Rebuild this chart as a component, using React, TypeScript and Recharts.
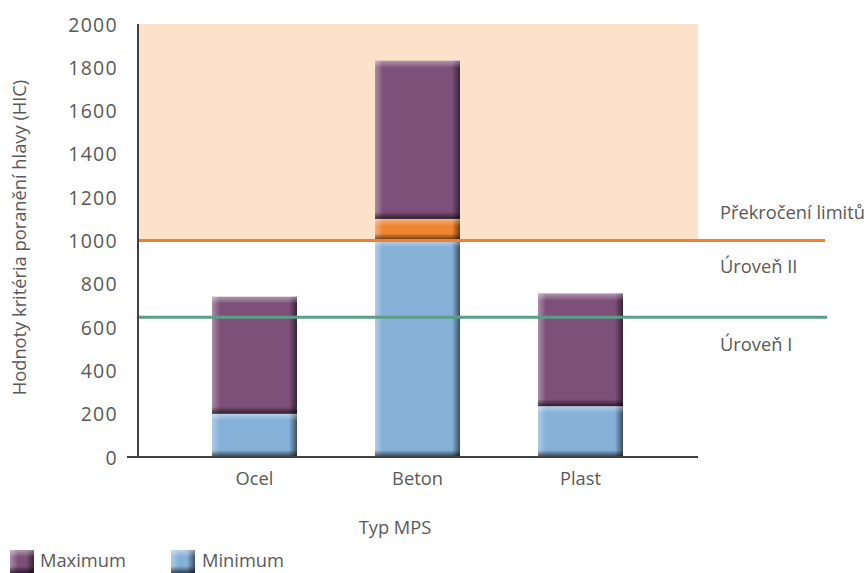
import React from 'react';
import { BarChart, Bar, XAxis, YAxis, ReferenceArea, ReferenceLine, Legend } from 'recharts';

const categories = ['Ocel', 'Beton', 'Plast'];
const minimumValues = [200, 1000, 235];
const limitExceededValues = [0, 100, 0];
const maximumValues = [740, 1830, 755];
const yTicks = [0, 200, 400, 600, 800, 1000, 1200, 1400, 1600, 1800, 2000];
const levelTwo = 1000;
const levelOne = 645;
const bandTop = 2000;

const data = categories.map((name, i) => ({
  name,
  min: minimumValues[i],
  over: limitExceededValues[i],
  maxPart: maximumValues[i] - minimumValues[i] - limitExceededValues[i],
}));

const FONT = '"Open Sans", "Noto Sans", sans-serif';
const TEXT = '#595959';
const FS = 18.3;

const palettes: Record<string, { main: string }> = {
  purple: { main: '#7D5079' },
  blue: { main: '#85B0D8' },
  orange: { main: '#F0842F' },
};

const Defs = () => (
  <defs>
    <linearGradient id="bgL" x1="0" y1="0" x2="1" y2="0">
      <stop offset="0" stopColor="#fff" stopOpacity={0.35} />
      <stop offset="1" stopColor="#fff" stopOpacity={0} />
    </linearGradient>
    <linearGradient id="bgR" x1="0" y1="0" x2="1" y2="0">
      <stop offset="0" stopColor="#000" stopOpacity={0} />
      <stop offset="1" stopColor="#000" stopOpacity={0.55} />
    </linearGradient>
    <linearGradient id="bgT" x1="0" y1="0" x2="0" y2="1">
      <stop offset="0" stopColor="#fff" stopOpacity={0.4} />
      <stop offset="1" stopColor="#fff" stopOpacity={0} />
    </linearGradient>
    <linearGradient id="bgB" x1="0" y1="0" x2="0" y2="1">
      <stop offset="0" stopColor="#000" stopOpacity={0} />
      <stop offset="1" stopColor="#000" stopOpacity={0.65} />
    </linearGradient>
  </defs>
);

const makeShape = (pal: string) => (p: any) => {
  const { x, y, width, height } = p;
  if (!height || height <= 0.5) return <g />;
  const e = Math.min(8, width / 2);
  const t = Math.min(7, height / 2);
  return (
    <g>
      <Defs />
      <rect x={x} y={y} width={width} height={height} fill={palettes[pal].main} />
      <rect x={x} y={y} width={e} height={height} fill="url(#bgL)" />
      <rect x={x + width - e} y={y} width={e} height={height} fill="url(#bgR)" />
      <rect x={x} y={y} width={width} height={t} fill="url(#bgT)" />
      <rect x={x} y={y + height - t} width={width} height={t} fill="url(#bgB)" />
    </g>
  );
};

const bandShape = (p: any) => {
  const { x, y, width, height } = p;
  return <rect x={x - 35} y={y} width={width + 71} height={height} fill="#FCE1CB" />;
};

const lineShape = (p: any) => {
  const { x1, y1, x2 } = p;
  return (
    <g>
      <line x1={x1 - 1} y1={y1} x2={x2 + 129} y2={y1} stroke="#5A9E86" strokeWidth={3} />
      <text x={x2 + 22} y={y1 + 26} fill={TEXT} fontSize={FS} fontFamily={FONT} dominantBaseline="central">
        Úroveň I
      </text>
    </g>
  );
};

const overShape = (p: any) => {
  const { x1, y1, x2 } = p;
  return (
    <g>
      <line x1={x1 - 1} y1={y1} x2={x2 + 127} y2={y1} stroke="#F47F2E" strokeWidth={3} />
      <text x={x2 + 22} y={y1 + 25} fill={TEXT} fontSize={FS} fontFamily={FONT} dominantBaseline="central">
        Úroveň II
      </text>
      <text x={x2 + 22} y={y1 - 29} fill={TEXT} fontSize={FS} fontFamily={FONT} dominantBaseline="central">
        Překročení limitů
      </text>
    </g>
  );
};

const YTick = (p: any) => {
  const { x, y, payload } = p;
  return (
    <g>
      <text x={x + 1} y={y} textAnchor="end" dominantBaseline="central" fill={TEXT} fontSize={19.5} letterSpacing={1.3} fontFamily={FONT}>
        {payload.value}
      </text>
      {payload.value === 0 && <line x1={x + 10} y1={y} x2={x + 21} y2={y} stroke="#404040" strokeWidth={2} />}
    </g>
  );
};

const LegendSwatch = ({ pal }: { pal: string }) => (
  <svg width={24} height={23} style={{ display: 'block' }}>
    {makeShape(pal)({ x: 0, y: 0, width: 24, height: 23 })}
  </svg>
);

const LegendContent = () => (
  <div style={{ position: 'relative', width: 866, height: 23, fontFamily: FONT, fontSize: FS, color: TEXT }}>
    <div style={{ position: 'absolute', left: 10, top: 0 }}><LegendSwatch pal="purple" /></div>
    <div style={{ position: 'absolute', left: 40, top: 0, lineHeight: '19px' }}>Maximum</div>
    <div style={{ position: 'absolute', left: 171, top: 0 }}><LegendSwatch pal="blue" /></div>
    <div style={{ position: 'absolute', left: 202, top: 0, lineHeight: '19px' }}>Minimum</div>
  </div>
);

export default function App() {
  return (
    <div style={{ position: 'absolute', left: 0, top: 0, width: 866, height: 573, background: '#fff' }}>
      <BarChart
        width={866}
        height={573}
        data={data}
        margin={{ top: 24, right: 168, bottom: 86, left: 78 }}
        barSize={85}
      >
        <ReferenceArea y1={levelTwo} y2={bandTop} shape={bandShape} ifOverflow="visible" />
        <XAxis
          dataKey="name"
          padding={{ left: 35, right: 36 }}
          tickLine={false}
          tickSize={0}
          tickMargin={15}
          axisLine={{ stroke: '#404040', strokeWidth: 2 }}
          height={30}
          tick={{ fill: TEXT, fontSize: FS, fontFamily: FONT }}
          label={{
            content: (lp: any) => {
              const vb = lp.viewBox || {};
              return (
                <text x={395} y={vb.y + 69} textAnchor="middle" dominantBaseline="central" fill={TEXT} fontSize={FS} fontFamily={FONT}>
                  Typ MPS
                </text>
              );
            },
          }}
        />
        <YAxis
          domain={[0, 2000]}
          ticks={yTicks}
          interval={0}
          width={60}
          tickSize={0}
          tickMargin={21}
          tickLine={false}
          axisLine={{ stroke: '#404040', strokeWidth: 2 }}
          tick={<YTick />}
          label={{
            content: (lp: any) => {
              const vb = lp.viewBox || {};
              const cy = vb.y + vb.height / 2 - 3;
              return (
                <text x={18} y={cy} transform={`rotate(-90 18 ${cy})`} textAnchor="middle" dominantBaseline="central" fill={TEXT} fontSize={FS} fontFamily={FONT}>
                  Hodnoty kritéria poranění hlavy (HIC)
                </text>
              );
            },
          }}
        />
        <Bar dataKey="min" stackId="a" fill="#85B0D8" shape={makeShape('blue')} isAnimationActive={false} />
        <Bar dataKey="over" stackId="a" fill="#F0842F" shape={makeShape('orange')} isAnimationActive={false} />
        <Bar dataKey="maxPart" stackId="a" fill="#7D5079" shape={makeShape('purple')} isAnimationActive={false} />
        <ReferenceLine y={levelOne} shape={lineShape} ifOverflow="visible" />
        <ReferenceLine y={levelTwo} shape={overShape} ifOverflow="visible" />
        <Legend
          verticalAlign="middle"
          layout="horizontal"
          content={<LegendContent />}
          wrapperStyle={{ position: 'absolute', left: 0, top: 550, width: 866 }}
        />
      </BarChart>
    </div>
  );
}
